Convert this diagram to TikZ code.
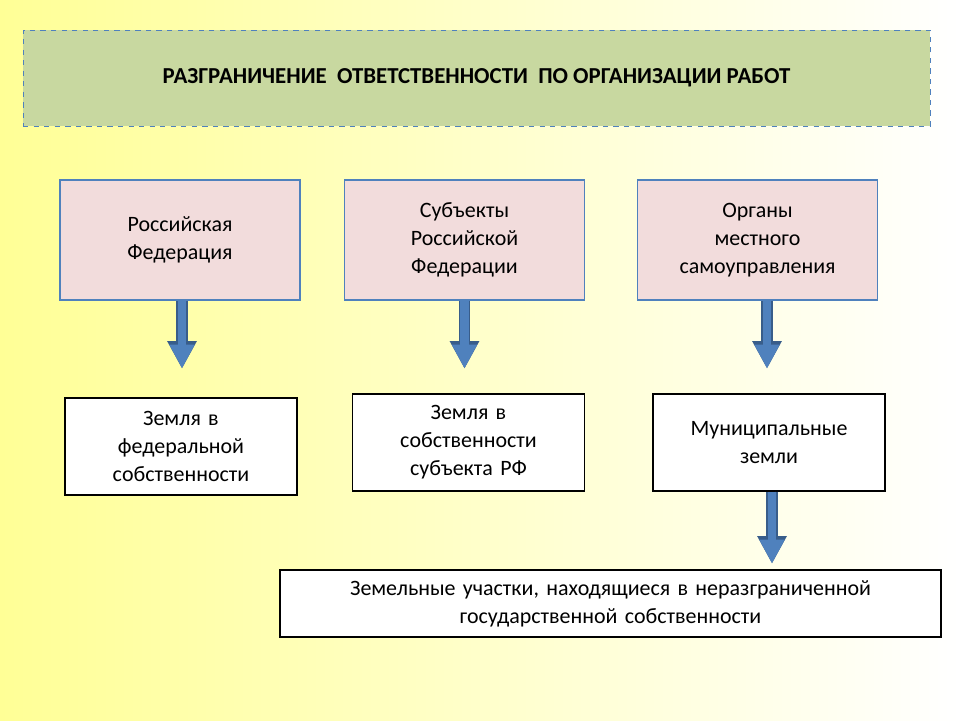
\documentclass[tikz,border=0pt]{standalone}
\usepackage{fontspec}
\setmainfont{Carlito}
\usetikzlibrary{arrows.meta}
\definecolor{titlegreen}{RGB}{200,216,160}
\definecolor{boxpink}{RGB}{242,220,220}
\definecolor{arrowblue}{RGB}{79,129,189}
\definecolor{arrowedge}{RGB}{56,93,138}
\definecolor{bgyellow}{RGB}{255,255,150}
\tikzset{%
  titlebox/.style = {draw=arrowblue, dashed, fill=titlegreen, minimum width=18.14cm,
    minimum height=1.92cm, font=\fontsize{13pt}{16pt}\selectfont\bfseries},
  subjbox/.style  = {draw=arrowblue, thick, fill=boxpink, minimum width=4.8cm,
    minimum height=2.4cm, align=center, text width=4.5cm},
  landbox/.style  = {draw=black, thick, fill=white, minimum width=4.64cm,
    minimum height=1.94cm, align=center, text width=4.3cm},
  downarrow/.style = {line width=5pt, draw=arrowblue,
    preaction={draw=arrowedge, line width=6.4pt, -{Triangle[length=0.55cm,width=0.55cm]}},
    -{Triangle[length=0.48cm,width=0.47cm]}}
}
\begin{document}
\begin{tikzpicture}[x=0.02cm, y=-0.02cm, font=\fontsize{12.5pt}{16pt}\selectfont]
\shade[shading angle=-45, left color=bgyellow, right color=white] (0,0) rectangle (960,720);
\useasboundingbox (0,0) rectangle (960,720);
% title
\node[titlebox] (title) at (476.5,78) {РАЗГРАНИЧЕНИЕ\ \ ОТВЕТСТВЕННОСТИ\ \ ПО ОРГАНИЗАЦИИ РАБОТ};
% subjects
\node[subjbox] (rf) at (180,240) {Российская\\Федерация};
\node[subjbox] (subj) at (464.5,240) {Субъекты\\Российской\\Федерации};
\node[subjbox] (mest) at (757.5,240) {Органы\\местного\\самоуправления};
% lands
\node[landbox] (fedland) at (181,446.5) {Земля в\\федеральной\\собственности};
\node[landbox] (subjland) at (468.5,442.5) {Земля в\\собственности\\субъекта РФ};
\node[landbox] (munland) at (769,442.5) {Муниципальные\\земли\\[\baselineskip]};
\node[landbox, minimum width=13.22cm, minimum height=1.34cm, text width=12.8cm]
  (nerazgr) at (610.5,603.5) {Земельные участки, находящиеся в неразграниченной\\государственной собственности};
% arrows
\draw[downarrow] (rf.south -| 182,0) -- ++(0,68);
\draw[downarrow] (subj.south) -- ++(0,68);
\draw[downarrow] (mest.south -| 767,0) -- ++(0,68);
\draw[downarrow] (munland.south -| 772,0) -- ++(0,72);
\end{tikzpicture}
\end{document}
